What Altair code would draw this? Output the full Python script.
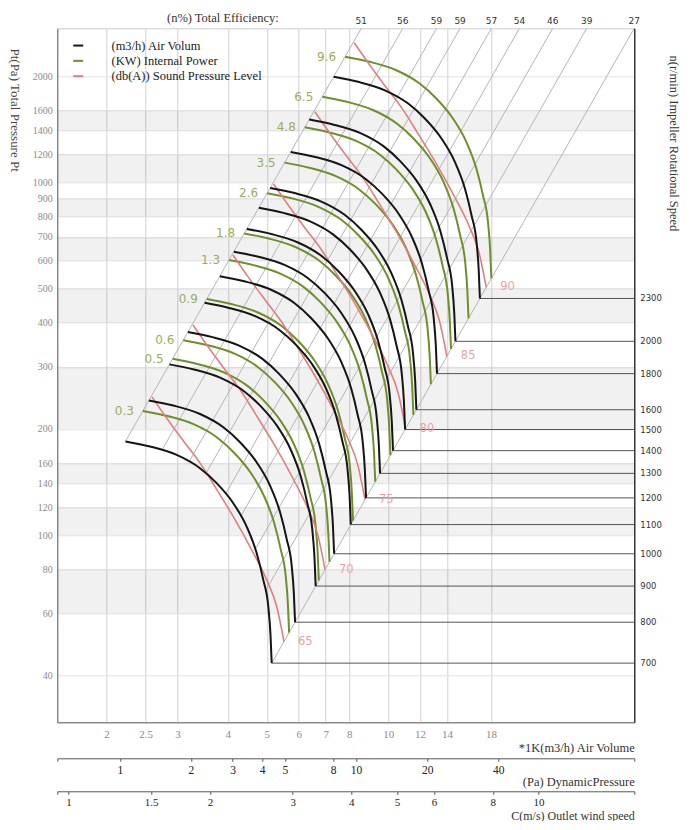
import math
import altair as alt
import pandas as pd

W, H = 577, 694
Q_DOMAIN = [1.51, 40.8]
P_DOMAIN = [29.5, 2731.0]
DP_DOMAIN = [0.5436, 150.7]
C_DOMAIN = [0.947, 16.0]

SERIF = "Liberation Serif"
SANS = "DejaVu Sans"

LEGEND_LABELS = ["(m3/h) Air Volum", "\u2002\u2002(KW) Internal Power", "(db(A)) Sound Pressure Level"]
LINE_COLORS = ["#151515", "#6f8f2c", "#e07f7f"]

# impeller speeds (r/min) of the black Q-P curves
speeds = [700, 800, 900, 1000, 1100, 1200, 1300, 1400, 1500, 1600, 1800, 2000, 2300]
base_speed = 700
# black curve at 700 r/min (air volume *1K m3/h, pressure Pa)
black_Q = [2.229, 2.564, 2.987, 3.412, 3.753, 4.127, 4.455, 4.718, 4.899, 5.041, 5.105, 5.140]
black_P = [184.4, 178.4, 168.8, 154.8, 140.4, 123.2, 105.8, 88.9, 74.7, 62.8, 52.2, 43.4]

# internal power curves: label and pressure at the curve start (Pa)
green_labels = ["0.3", "0.5", "0.6", "0.9", "1.3", "1.8", "2.6", "3.5", "4.8", "6.5", "9.6"]
green_start_P = [225, 316, 357, 467, 602, 716, 931, 1137, 1431, 1748, 2269]

# sound pressure level curves
pink_labels = ["65", "70", "75", "80", "85", "90"]
pink_start_P = [246.5, 394, 622, 989, 1585, 2486]
pink_Q = [2.594, 2.842, 3.131, 3.412, 3.760, 4.127, 4.627, 4.995, 5.289, 5.514]
pink_P = [246.5, 212.1, 182.6, 160.3, 134.4, 112.9, 89.1, 74.7, 62.8, 49.96]

# total efficiency lines: label and start point on the 700 r/min curve
eff_labels = ["51", "56", "59", "59", "57", "54", "46", "39", "27"]
eff_Q = [2.229, 2.747, 3.204, 3.531, 3.948, 4.300, 4.678, 4.960, 5.140]
eff_P = [184.4, 174.4, 161.3, 149.7, 130.9, 112.7, 91.2, 69.5, 43.4]

band_lo = [1400, 1000, 800, 600, 400, 200, 140, 100, 60]
band_hi = [1600, 1200, 900, 700, 500, 300, 160, 120, 80]

x_ticks = [2, 2.5, 3, 4, 5, 6, 7, 8, 10, 12, 14, 18]
y_ticks = [40, 60, 80, 100, 120, 140, 160, 200, 300, 400, 500, 600, 700, 800, 900,
           1000, 1200, 1400, 1600, 2000]
dp_ticks = [1, 2, 3, 4, 5, 8, 10, 20, 40]
c_ticks = [1, 1.5, 2, 3, 4, 5, 6, 8, 10]

# ---------------------------------------------------------------- tables
curve_rows = []
for n in speeds:
    k = n / base_speed
    for i, (q, p) in enumerate(zip(black_Q, black_P)):
        curve_rows.append(dict(Q=q * k, P=p * k * k, series=LEGEND_LABELS[0], curve=f"b{n}", i=i))
black_df = pd.DataFrame(curve_rows)

green_rows, green_lab = [], []
for lab, p0 in zip(green_labels, green_start_P):
    k = math.sqrt(p0 / black_P[0])
    for i, (q, p) in enumerate(zip(black_Q, black_P)):
        green_rows.append(dict(Q=q * k, P=p * k * k, series=LEGEND_LABELS[1], curve=f"g{lab}", i=i))
    green_lab.append(dict(Q=black_Q[0] * k, P=black_P[0] * k * k, label=lab))
green_df = pd.DataFrame(green_rows)
green_lab_df = pd.DataFrame(green_lab)

pink_rows, pink_lab = [], []
for lab, p0 in zip(pink_labels, pink_start_P):
    k = math.sqrt(p0 / pink_P[0])
    for i, (q, p) in enumerate(zip(pink_Q, pink_P)):
        pink_rows.append(dict(Q=q * k, P=p * k * k, series=LEGEND_LABELS[2], curve=f"p{lab}", i=i))
    pink_lab.append(dict(Q=pink_Q[-1] * k, P=pink_P[-1] * k * k, label=lab))
pink_df = pd.DataFrame(pink_rows)
pink_lab_df = pd.DataFrame(pink_lab)

speed_df = pd.DataFrame([
    dict(Q=black_Q[-1] * n / base_speed, Q2=Q_DOMAIN[1],
         P=black_P[-1] * (n / base_speed) ** 2, label=str(n))
    for n in speeds
])

eff_df = pd.DataFrame([
    dict(Q=q, P=p, Q2=q * math.sqrt(P_DOMAIN[1] / p), P2=P_DOMAIN[1], label=lab)
    for lab, q, p in zip(eff_labels, eff_Q, eff_P)
])

band_df = pd.DataFrame({"P": band_lo, "P2": band_hi})

# ---------------------------------------------------------------- encodings
xscale = alt.Scale(type="log", domain=Q_DOMAIN, nice=False)
yscale = alt.Scale(type="log", domain=P_DOMAIN, nice=False)

xaxis = alt.Axis(values=x_ticks, format="~g", labelFont=SERIF, labelFontSize=11,
                 labelColor="#8a8a8a", ticks=False, labelPadding=6, labelOverlap=False,
                 labelFlush=False, domainColor="#666666", grid=True, gridColor="#d2d2d2",
                 title="*1K(m3/h) Air Volume", titleX=W, titleY=25.5, titleAlign="right",
                 titleBaseline="middle", titleFont=SERIF, titleFontSize=12.5,
                 titleFontWeight="normal", titleColor="#333333")
yaxis = alt.Axis(values=y_ticks, format="~g", labelFont=SERIF, labelFontSize=10,
                 labelColor="#8a8a8a", ticks=False, labelPadding=5, labelOverlap=False,
                 labelFlush=False, domainColor="#666666", grid=True, gridColor="#e2e2e2",
                 title="Pt(Pa) Total Pressure Pt", titleAngle=90, titleX=-42.5, titleY=19.7,
                 titleAlign="left", titleBaseline="middle", titleFont=SERIF, titleFontSize=13,
                 titleFontWeight="normal", titleColor="#444444")

X = alt.X("Q:Q", scale=xscale, axis=xaxis)
Y = alt.Y("P:Q", scale=yscale, axis=yaxis)

color = alt.Color(
    "series:N",
    scale=alt.Scale(domain=LEGEND_LABELS, range=LINE_COLORS),
    legend=alt.Legend(orient="none", legendX=14.7, legendY=11.0, title=None,
                      symbolType="stroke", symbolSize=100, symbolStrokeWidth=2,
                      labelFont=SERIF, labelFontSize=12.5, labelColor="#222222",
                      labelOffset=27, rowPadding=2.3, padding=0, labelLimit=400),
)

bands = alt.Chart(band_df).mark_rect(color="black", opacity=0.055).encode(
    y=Y, y2="P2:Q", x=alt.value(0), x2=alt.value(W))

eff_lines = alt.Chart(eff_df).mark_rule(color="#b5b5b5", strokeWidth=1).encode(
    x=X, y=Y, x2="Q2:Q", y2="P2:Q")

speed_lines = alt.Chart(speed_df).mark_rule(color="#555555", strokeWidth=1).encode(
    x=X, x2="Q2:Q", y=Y)

green_lines = alt.Chart(green_df).mark_line(strokeWidth=2, interpolate="monotone").encode(
    x=X, y=Y, color=color, detail="curve:N", order="i:Q")
pink_lines = alt.Chart(pink_df).mark_line(strokeWidth=1.6, interpolate="monotone").encode(
    x=X, y=Y, color=color, detail="curve:N", order="i:Q")
black_lines = alt.Chart(black_df).mark_line(strokeWidth=2, interpolate="monotone").encode(
    x=X, y=Y, color=color, detail="curve:N", order="i:Q")

eff_text = alt.Chart(eff_df).mark_text(font=SANS, fontSize=9, color="#333333",
                                       baseline="middle", dy=-7).encode(
    x=alt.X("Q2:Q", scale=xscale, axis=xaxis), y=alt.Y("P2:Q", scale=yscale, axis=yaxis),
    text="label:N")
speed_text = alt.Chart(speed_df).mark_text(font=SANS, fontSize=8.5, color="#333333",
                                           align="left", baseline="middle", dx=6).encode(
    x=alt.X("Q2:Q", scale=xscale, axis=xaxis), y=Y, text="label:N")
green_text = alt.Chart(green_lab_df).mark_text(font=SANS, fontSize=12, color="#9aad5c",
                                               align="right", baseline="middle", dx=-9).encode(
    x=X, y=Y, text="label:N")
pink_text = alt.Chart(pink_lab_df).mark_text(font=SANS, fontSize=11.5, color="#e8a3a3",
                                             align="left", baseline="middle", dx=14).encode(
    x=X, y=Y, text="label:N")

main = alt.layer(bands, eff_lines, speed_lines, green_lines, pink_lines, black_lines,
                 eff_text, speed_text, green_text, pink_text)

# extra scales drawn below the plot
dp_layer = alt.Chart(pd.DataFrame({"v": [1.0]})).mark_point(opacity=0).encode(
    x=alt.X("v:Q", scale=alt.Scale(type="log", domain=DP_DOMAIN, nice=False),
            axis=alt.Axis(orient="bottom", offset=36,
                          values=[DP_DOMAIN[0]] + dp_ticks + [DP_DOMAIN[1]],
                          labelExpr="datum.value < 0.6 || datum.value > 100 ? '' : datum.label",
                          format="~g", ticks=True, tickSize=3, tickColor="#555555",
                          domainColor="#555555", labelFont=SERIF, labelFontSize=11.5,
                          labelColor="#222222", labelPadding=3, labelOverlap=False,
                          labelFlush=False, grid=False,
                          title="(Pa) DynamicPressure", titleX=W, titleY=23.0,
                          titleAlign="right", titleBaseline="middle", titleFont=SERIF,
                          titleFontSize=12.5, titleFontWeight="normal", titleColor="#333333")))

c_layer = alt.Chart(pd.DataFrame({"c": [1.0], "d": [0.5]})).mark_point(opacity=0).encode(
    x=alt.X("c:Q", scale=alt.Scale(type="log", domain=C_DOMAIN, nice=False),
            axis=alt.Axis(orient="bottom", offset=69,
                          values=[C_DOMAIN[0]] + c_ticks + [C_DOMAIN[1]],
                          labelExpr="datum.value < 0.99 || datum.value > 15 ? '' : datum.label",
                          format="~g", ticks=True, tickSize=3, tickColor="#555555",
                          domainColor="#555555", labelFont=SERIF, labelFontSize=11,
                          labelColor="#222222", labelPadding=2, labelOverlap=False,
                          labelFlush=False, grid=False,
                          title="C(m/s) Outlet wind speed", titleX=W, titleY=23.8,
                          titleAlign="right", titleBaseline="middle", titleFont=SERIF,
                          titleFontSize=12, titleFontWeight="normal", titleColor="#333333")),
    y=alt.Y("d:Q", scale=alt.Scale(domain=[0, 1]),
            axis=alt.Axis(orient="right", labels=False, ticks=False, grid=False,
                          domainColor="#111111", domainWidth=1.2,
                          title="n(r/min) Impeller Rotational Speed", titleAngle=90,
                          titleX=39.5, titleY=26.7, titleAlign="left", titleBaseline="middle",
                          titleFont=SERIF, titleFontSize=12.5, titleFontWeight="normal",
                          titleColor="#333333")))

chart = alt.layer(main, dp_layer, c_layer).resolve_scale(
    x="independent", y="independent"
).properties(
    width=W, height=H,
    autosize=alt.AutoSizeParams(type="none"),
    padding={"left": 49.3, "top": 20.3, "right": 47.5, "bottom": 99},
    title=alt.TitleParams("(n%) Total Efficiency:", anchor="start", frame="group",
                          dx=109.7, offset=-7, font=SERIF, fontSize=12.5,
                          fontWeight="normal", color="#333333"),
).configure_view(stroke="#cccccc")

chart.save("out.html", embed_options={"renderer": "svg", "actions": False})
